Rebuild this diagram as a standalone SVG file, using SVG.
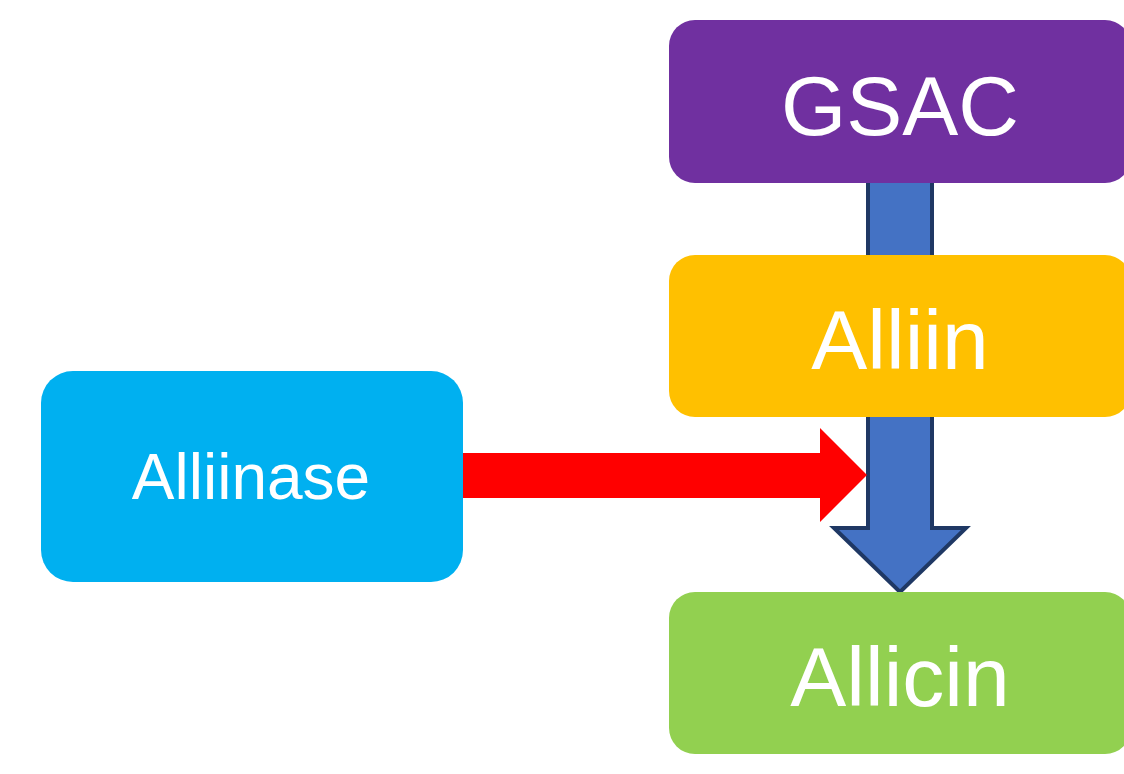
<svg xmlns="http://www.w3.org/2000/svg" width="1124" height="774" viewBox="0 0 1124 774">
<style>
.t{font-family:"Liberation Sans",Arial,sans-serif;fill:#fff;text-anchor:middle}
.big{font-size:84px}
.mid{font-size:64px}
</style>
<rect width="1124" height="774" fill="#fff"/>
<g id="connectors">
<path d="M868 150 H932 V528 H966 L900 592 L834 528 H868 Z" fill="#4472C4" stroke="#1F3864" stroke-width="4" stroke-linejoin="miter"/>
<path d="M440 453 H820 V428 L867 475 L820 522 V498 H440 Z" fill="#FF0000"/>
</g>
<g id="gsac">
<rect x="669" y="20" width="462" height="163" rx="26" fill="#7030A0"/>
<text class="t big" x="900" y="135">GSAC</text>
</g>
<g id="alliin">
<rect x="669" y="255" width="462" height="162" rx="26" fill="#FFC000"/>
<text class="t big" x="900" y="369">Alliin</text>
</g>
<g id="allicin">
<rect x="669" y="592" width="462" height="162" rx="26" fill="#92D050"/>
<text class="t big" x="900" y="706">Allicin</text>
</g>
<g id="alliinase">
<rect x="41" y="371" width="422" height="211" rx="32" fill="#00B0F0"/>
<text class="t mid" x="251" y="499">Alliinase</text>
</g>
</svg>
